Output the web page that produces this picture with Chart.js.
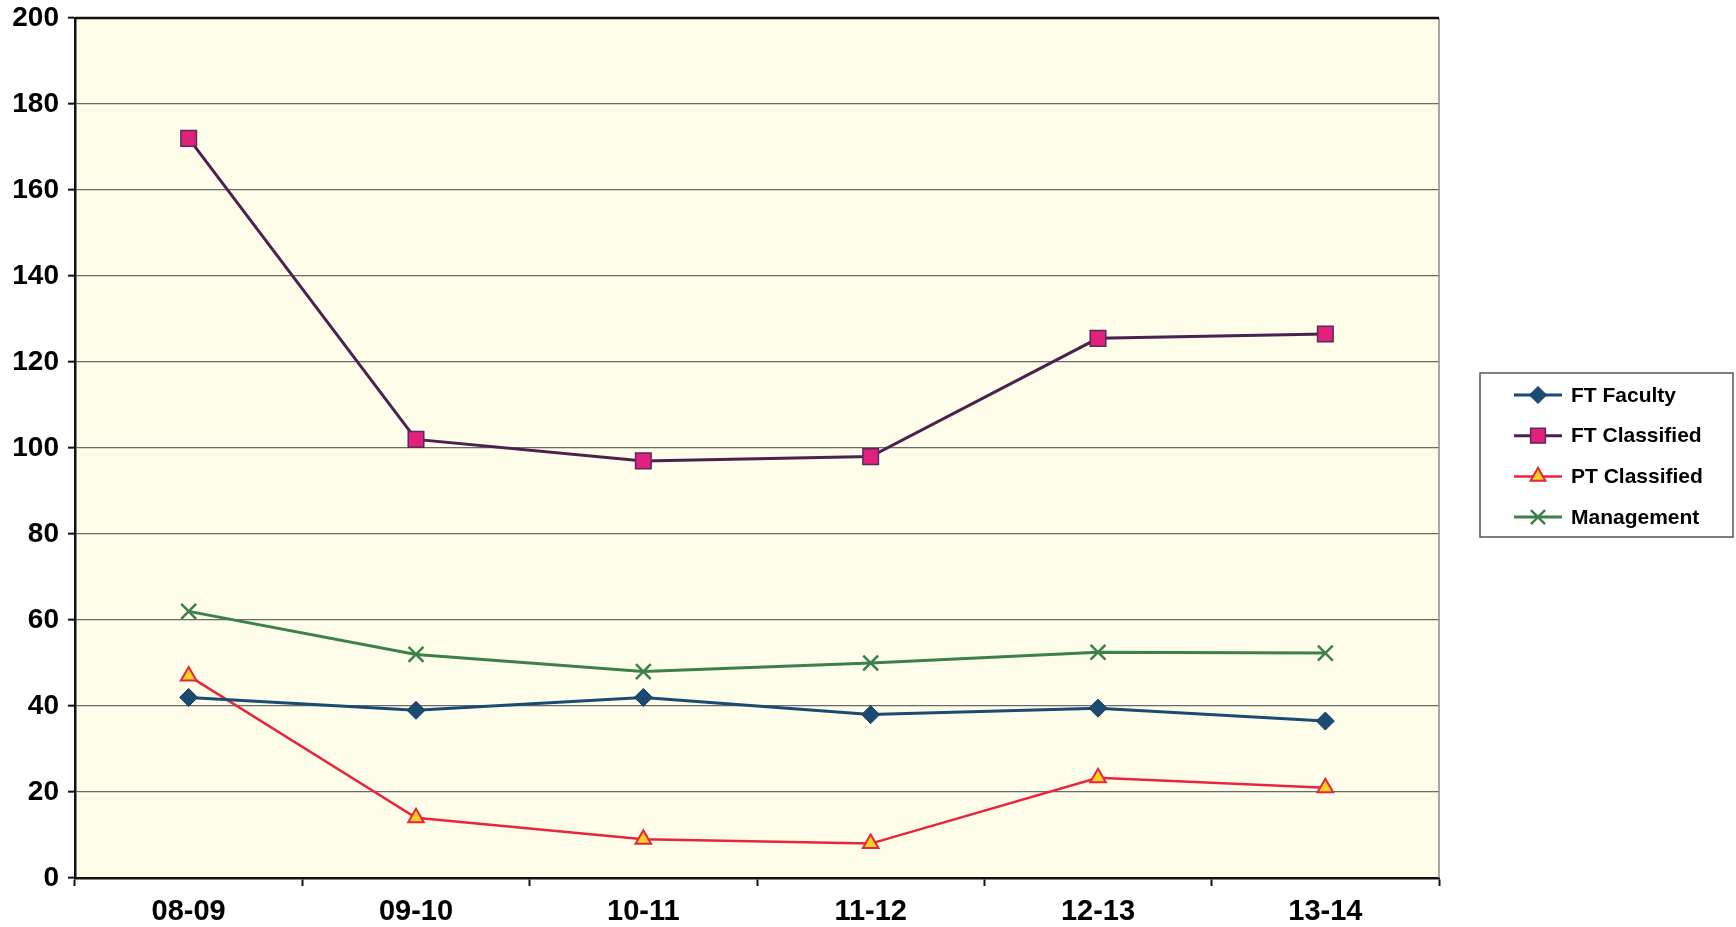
<!DOCTYPE html>
<html lang="en">
<head>
  <meta charset="utf-8">
  <title>Staff Counts</title>
  <script src="https://cdn.jsdelivr.net/npm/chart.js@4.4.1/dist/chart.umd.min.js"></script>
  <style>
    body { margin: 0; background: #fff; }
    #wrap { width: 1736px; height: 927px; position: relative; }
  </style>
</head>
<body>
  <div id="wrap"><canvas id="myChart"></canvas></div>
  <script>
    // years on the x axis
    var years = ['08-09', '09-10', '10-11', '11-12', '12-13', '13-14'];
    // values
    var ftFaculty = [42, 39, 42, 38, 39.5, 36.5];
    var ftClassified = [172, 102, 97, 98, 125.5, 126.5];
    var ptClassified = [47, 14, 9, 8, 23.3, 21];
    var management = [62, 52, 48, 50, 52.5, 52.3];
    var yTicks = [0, 20, 40, 60, 80, 100, 120, 140, 160, 180, 200];

    // background, top/right frame of the plot area
    var plotFrame = {
      id: 'plotFrame',
      beforeDraw: function (chart) {
        var a = chart.chartArea, ctx = chart.ctx;
        ctx.save();
        ctx.fillStyle = '#fdfde9';
        ctx.fillRect(a.left, a.top, a.right - a.left, a.bottom - a.top);
        ctx.restore();
      },
      afterDraw: function (chart) {
        var a = chart.chartArea, ctx = chart.ctx;
        ctx.save();
        ctx.strokeStyle = '#8a8a8a';
        ctx.lineWidth = 1.5;
        ctx.beginPath();
        ctx.moveTo(a.right, a.top);
        ctx.lineTo(a.right, a.bottom);
        ctx.stroke();
        ctx.strokeStyle = '#111';
        ctx.lineWidth = 2.5;
        ctx.beginPath();
        ctx.moveTo(a.left, a.top);
        ctx.lineTo(a.right, a.top);
        ctx.stroke();
        ctx.restore();
      }
    };

    // boxed legend on the right, built from the datasets
    var boxLegend = {
      id: 'boxLegend',
      afterDraw: function (chart) {
        var ctx = chart.ctx;
        var bx = 1480, by = 373, bw = 253, bh = 164;
        ctx.save();
        ctx.fillStyle = '#fff';
        ctx.fillRect(bx, by, bw, bh);
        ctx.strokeStyle = '#555';
        ctx.lineWidth = 1.5;
        ctx.strokeRect(bx, by, bw, bh);
        chart.data.datasets.forEach(function (ds, i) {
          var y = 395 + i * 40.7;
          ctx.strokeStyle = ds.borderColor;
          ctx.lineWidth = ds.borderWidth;
          ctx.beginPath();
          ctx.moveTo(1514, y);
          ctx.lineTo(1562, y);
          ctx.stroke();
          ctx.fillStyle = ds.pointBackgroundColor;
          ctx.strokeStyle = ds.pointBorderColor;
          ctx.lineWidth = ds.pointBorderWidth;
          Chart.helpers.drawPoint(ctx, {
            pointStyle: ds.pointStyle,
            radius: ds.pointRadius * 0.95,
            rotation: 0,
            borderWidth: ds.pointBorderWidth
          }, 1538, y);
          ctx.fillStyle = '#000';
          ctx.font = 'bold 21px "Liberation Sans", Arial, sans-serif';
          ctx.textBaseline = 'middle';
          ctx.fillText(ds.label, 1571, y + 1);
        });
        ctx.restore();
      }
    };

    var ctx = document.getElementById('myChart');
    var myChart = new Chart(ctx, {
      type: 'line',
      data: {
        labels: years,
        datasets: [
          {
            label: 'FT Faculty',
            data: ftFaculty,
            borderColor: '#1b4a72',
            borderWidth: 3,
            pointStyle: 'rectRot',
            pointRadius: 9,
            pointBackgroundColor: '#1b4a72',
            pointBorderColor: '#163d5e',
            pointBorderWidth: 1
          },
          {
            label: 'FT Classified',
            data: ftClassified,
            borderColor: '#4a2250',
            borderWidth: 3,
            pointStyle: 'rect',
            pointRadius: 11,
            pointBackgroundColor: '#e2217c',
            pointBorderColor: '#5a2a5e',
            pointBorderWidth: 1.5
          },
          {
            label: 'PT Classified',
            data: ptClassified,
            borderColor: '#e8243e',
            borderWidth: 2.5,
            pointStyle: 'triangle',
            pointRadius: 9,
            pointBackgroundColor: '#f7d21e',
            pointBorderColor: '#e8243e',
            pointBorderWidth: 2
          },
          {
            label: 'Management',
            data: management,
            borderColor: '#3d8049',
            borderWidth: 3,
            pointStyle: 'crossRot',
            pointRadius: 10.5,
            pointBackgroundColor: '#3d8049',
            pointBorderColor: '#3d8049',
            pointBorderWidth: 2.5
          }
        ]
      },
      options: {
        responsive: true,
        maintainAspectRatio: false,
        animation: false,
        layout: { padding: { top: 18, right: 297, left: 0, bottom: 0 } },
        plugins: {
          legend: { display: false },
          tooltip: { enabled: false }
        },
        elements: { line: { tension: 0 } },
        scales: {
          x: {
            offset: true,
            grid: {
              offset: true,
              drawOnChartArea: false,
              drawTicks: true,
              tickLength: 8,
              tickColor: '#111',
              tickWidth: 2
            },
            border: { color: '#111', width: 2.5 },
            ticks: {
              color: '#000',
              padding: 9,
              maxRotation: 0,
              font: { family: '"Liberation Sans", Arial, sans-serif', size: 29, weight: 'bold' }
            },
            afterFit: function (scale) {
              scale.height = 49;
              scale.paddingLeft = 0;
              scale.paddingRight = 0;
            }
          },
          y: {
            min: 0,
            max: 200,
            afterBuildTicks: function (scale) {
              scale.ticks = yTicks.map(function (v) { return { value: v }; });
            },
            grid: {
              color: '#6a6a6a',
              lineWidth: 1.3,
              tickLength: 7,
              tickColor: '#111',
              tickWidth: 2
            },
            border: { color: '#111', width: 2.5 },
            ticks: {
              color: '#000',
              padding: 9,
              font: { family: '"Liberation Sans", Arial, sans-serif', size: 28, weight: 'bold' }
            },
            afterFit: function (scale) {
              scale.width = 75;
              scale.paddingTop = 0;
              scale.paddingBottom = 0;
            }
          }
        }
      },
      plugins: [plotFrame, boxLegend]
    });
  </script>
</body>
</html>
